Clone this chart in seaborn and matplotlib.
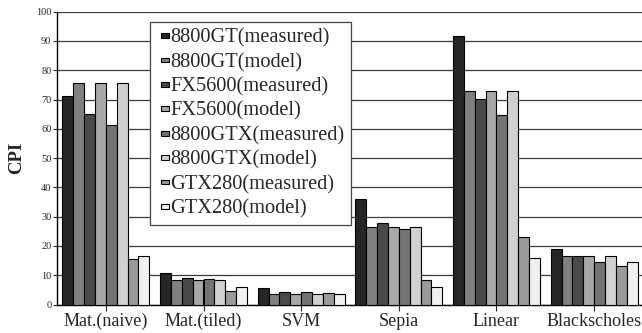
import numpy as np
import pandas as pd
import matplotlib
matplotlib.use("Agg")
import matplotlib.pyplot as plt
import matplotlib.patches as mpatches
from matplotlib.legend_handler import HandlerPatch
import seaborn as sns

categories = ["Mat.(naive)", "Mat.(tiled)", "SVM", "Sepia", "Linear", "Blackscholes"]
series = ["8800GT(measured)", "8800GT(model)", "FX5600(measured)", "FX5600(model)",
          "8800GTX(measured)", "8800GTX(model)", "GTX280(measured)", "GTX280(model)"]
gt8800_meas = [71.1, 10.6, 5.8, 36.2, 91.8, 18.9]
gt8800_model = [75.6, 8.3, 3.5, 26.4, 72.9, 16.7]
fx5600_meas = [64.9, 8.9, 4.3, 27.7, 70.3, 16.4]
fx5600_model = [75.6, 8.3, 3.5, 26.4, 72.9, 16.7]
gtx8800_meas = [61.2, 8.6, 4.3, 25.7, 64.6, 14.4]
gtx8800_model = [75.6, 8.3, 3.5, 26.4, 72.9, 16.7]
gtx280_meas = [15.5, 4.7, 3.9, 8.3, 23.0, 13.1]
gtx280_model = [16.5, 5.9, 3.5, 5.9, 15.9, 14.6]
yticks = [0, 10, 20, 30, 40, 50, 60, 70, 80, 90, 100]

values = [gt8800_meas, gt8800_model, fx5600_meas, fx5600_model,
          gtx8800_meas, gtx8800_model, gtx280_meas, gtx280_model]
rows = []
for s, vals in zip(series, values):
    for c, v in zip(categories, vals):
        rows.append({"Benchmark": c, "Series": s, "CPI": v})
df = pd.DataFrame(rows)

palette = ["#262626", "#808080", "#4a4a4a", "#a8a8a8", "#747474", "#d0d0d0", "#9a9a9a", "#f0f0f0"]

sns.set_style("white")
plt.rcParams["font.family"] = ["Liberation Serif", "DejaVu Serif"]

fig = plt.figure(figsize=(6.42, 3.33), dpi=100)
ax = fig.add_axes([57 / 642, 1 - 304.5 / 333, 586 / 642, 292.8 / 333])

sns.barplot(data=df, x="Benchmark", y="CPI", hue="Series", order=categories,
            hue_order=series, palette=palette, edgecolor="black", linewidth=0.8,
            width=0.89, saturation=1, ax=ax, zorder=3, legend=False)

ax.set_ylim(0, 100)
ax.set_xlim(-0.5, 5.5)
ax.set_yticks(yticks)
ax.set_yticklabels([str(t) for t in yticks], fontsize=7.5)
ax.tick_params(axis="y", length=3, width=0.8, pad=1, left=True, direction="out")
ax.tick_params(axis="x", length=4, width=0.8, pad=2, bottom=True, labelsize=13, direction="out")
ax.set_xlabel("")
ax.set_ylabel("CPI", fontsize=13.5, fontweight="bold", labelpad=8)
ax.yaxis.grid(True, color="#3a3a3a", linewidth=0.9, zorder=0)
ax.set_axisbelow(True)
for side in ["top", "right"]:
    ax.spines[side].set_visible(False)
for side in ["left", "bottom"]:
    ax.spines[side].set_color("black")
    ax.spines[side].set_linewidth(1)


def small_rect(legend, orig_handle, xdescent, ydescent, width, height, fontsize):
    w = 6.3
    h = 3.4
    x0 = -xdescent + width - w
    y0 = -ydescent + height / 2 - h / 2
    return mpatches.Rectangle((x0, y0), w, h)


handles = [mpatches.Patch(facecolor=c, edgecolor="black", linewidth=0.8) for c in palette]
leg = ax.legend(handles, series, loc="upper left",
                bbox_to_anchor=(93 / 586, (304.5 - 21.7) / 292.8),
                fontsize=14.7, frameon=True, fancybox=False, framealpha=1,
                edgecolor="#444444", handlelength=0.62, handleheight=0.7,
                handletextpad=0.05, labelspacing=0.25, borderpad=0.33,
                borderaxespad=0, title=None,
                handler_map={mpatches.Patch: HandlerPatch(patch_func=small_rect)})
leg.get_frame().set_linewidth(0.9)
leg.set_zorder(5)

fig.savefig("out.png", dpi=100)
